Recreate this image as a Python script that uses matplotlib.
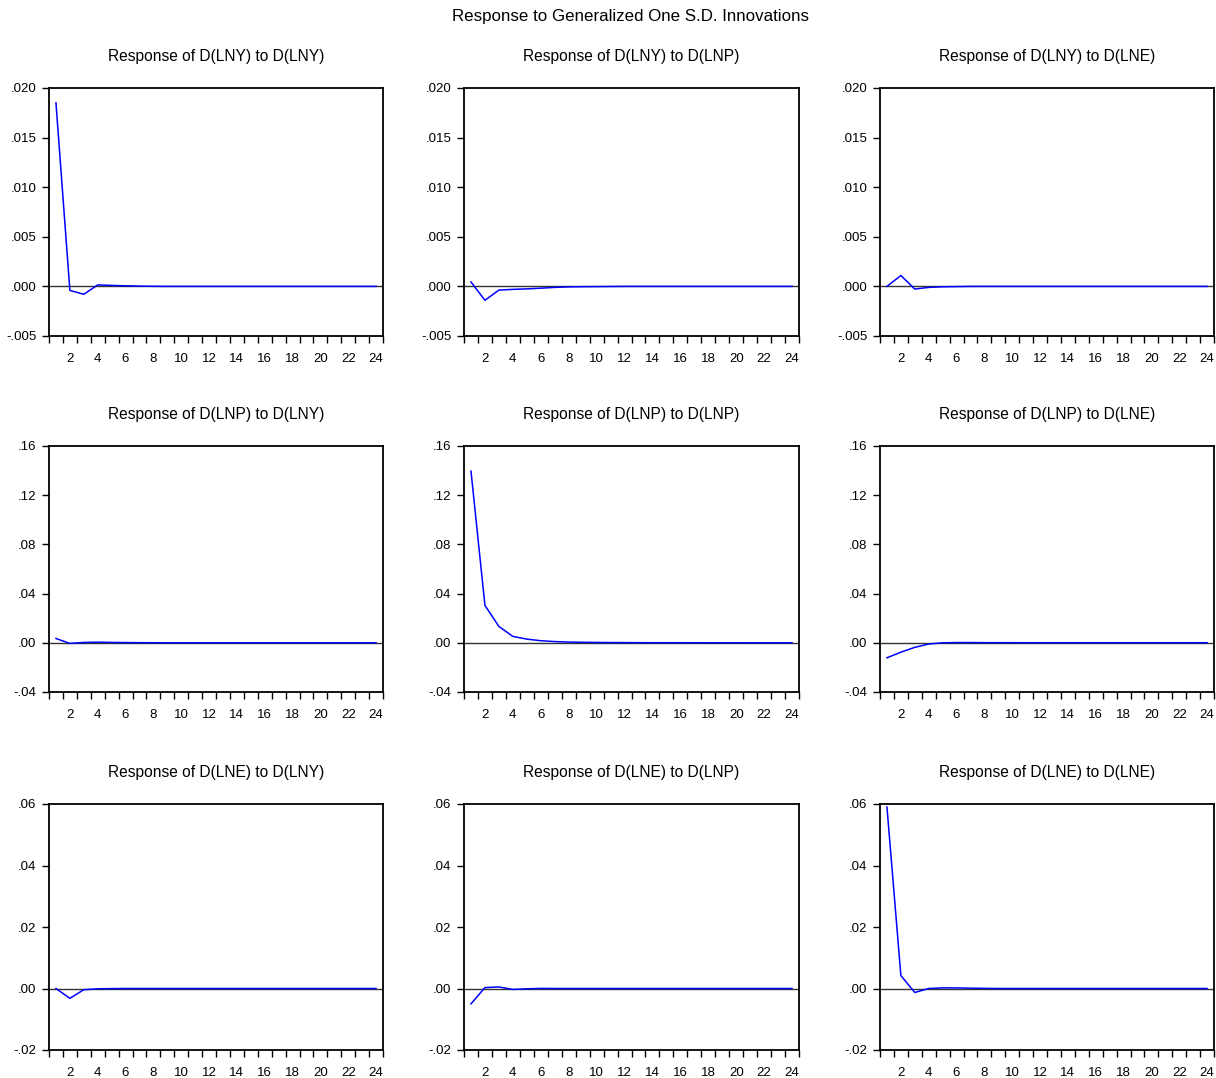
import matplotlib
matplotlib.use("Agg")
import matplotlib.pyplot as plt
from matplotlib.ticker import FixedLocator, FuncFormatter

plt.rcParams['font.family'] = ['Liberation Sans', 'DejaVu Sans']

periods = list(range(1, 25))

# responses (rows: response of, cols: shock to)
y_y = [0.0185, -0.0004, -0.0008, 0.00015, 0.0001, 0.00006, 0.00003, 0.00001] + [0.0] * 16
y_p = [0.00045, -0.0014, -0.00037, -0.0003, -0.00025, -0.00018, -0.0001, -0.00005,
       -0.00003, -0.00002, -0.00001] + [0.0] * 13
y_e = [0.0, 0.0011, -0.00027, -0.0001, -0.00004, -0.00002] + [0.0] * 18

p_y = [0.0035, -0.0005, 0.0003, 0.0005, 0.0003, 0.0002, 0.0001, 0.00005] + [0.0] * 16
p_p = [0.1396, 0.0304, 0.0133, 0.0052, 0.003, 0.0017, 0.001, 0.0006, 0.0004, 0.0003,
       0.0002, 0.00015, 0.0001, 0.00008, 0.00006, 0.00005, 0.00004, 0.00003,
       0.00002, 0.00002, 0.00001, 0.00001, 0.00001, 0.00001]
p_e = [-0.0122, -0.0076, -0.0037, -0.001, 0.0, 0.0002, 0.0002, 0.0001, 0.0001,
       0.0001] + [0.00005] * 14

e_y = [0.0, -0.0032, -0.0004, -0.0001, -0.00003] + [0.0] * 19
e_p = [-0.005, 0.0003, 0.0005, -0.0003, -0.0001, 0.00003] + [0.0] * 18
e_e = [0.059, 0.0042, -0.0013, 0.0, 0.0002, 0.0002, 0.0001, 0.00005] + [0.0] * 16

responses = [[y_y, y_p, y_e], [p_y, p_p, p_e], [e_y, e_p, e_e]]
names = ['D(LNY)', 'D(LNP)', 'D(LNE)']
row_ticks = [
    [-0.005, 0.000, 0.005, 0.010, 0.015, 0.020],
    [-0.04, 0.00, 0.04, 0.08, 0.12, 0.16],
    [-0.02, 0.00, 0.02, 0.04, 0.06],
]
row_decimals = [3, 2, 2]

W, H = 1216, 1078
fig = plt.figure(figsize=(W / 100, H / 100), dpi=100)

col_left = [49, 464, 880]
col_right = [383, 799, 1214]
row_top = [88, 446, 804]
row_bottom = [336, 692, 1050]


def make_fmt(dec):
    def fmt(v, pos):
        s = f"{v:.{dec}f}"
        if s.startswith("-0."):
            return "-" + s[2:]
        if s.startswith("0."):
            return s[1:]
        return s
    return fmt


for r in range(3):
    for c in range(3):
        l, rt = col_left[c], col_right[c]
        t, b = row_top[r], row_bottom[r]
        ax = fig.add_axes([l / W, 1 - b / H, (rt - l) / W, (b - t) / H])
        ax.plot(periods, responses[r][c], color='#0000ff', lw=1.1, zorder=3)
        ax.axhline(0, color='#333333', lw=1.0, zorder=2)
        ticks = row_ticks[r]
        ax.set_ylim(ticks[0], ticks[-1])
        ax.set_xlim(0.5, 24.5)
        ax.yaxis.set_major_locator(FixedLocator(ticks))
        ax.yaxis.set_major_formatter(FuncFormatter(make_fmt(row_decimals[r])))
        ax.xaxis.set_major_locator(FixedLocator(list(range(2, 25, 2))))
        ax.xaxis.set_minor_locator(FixedLocator([k + 0.5 for k in range(0, 25)]))
        ax.tick_params(axis='x', which='major', length=0, pad=12, labelsize=9.5)
        ax.tick_params(axis='x', which='minor', length=5, width=1.0, direction='out')
        ax.tick_params(axis='y', which='major', length=5, width=1.0, direction='out',
                       pad=4, labelsize=9.5)
        for sp in ax.spines.values():
            sp.set_linewidth(1.3)
            sp.set_color('black')
        ax.text(0.5, 1 + 31 / (b - t), f"Response of {names[r]} to {names[c]}",
                transform=ax.transAxes, ha='center', va='center', fontsize=11.2)

fig.text(631 / W, 1 - 17 / H, "Response to Generalized One S.D. Innovations",
         ha='center', va='center', fontsize=12.2)

fig.savefig('out.png', dpi=100)
